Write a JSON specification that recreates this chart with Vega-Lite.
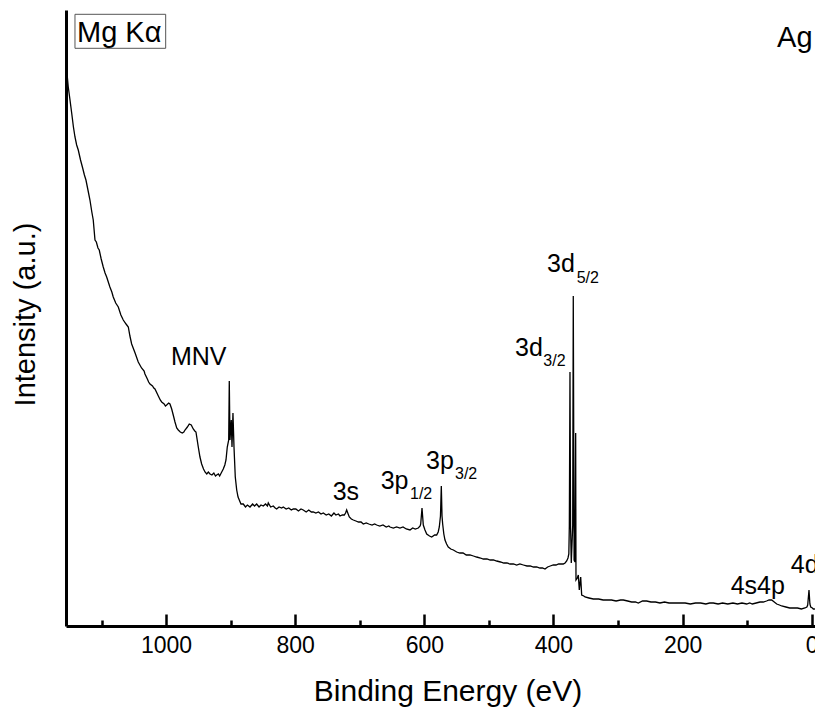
{
  "$schema": "https://vega.github.io/schema/vega-lite/v6.json",
  "autosize": {"type": "none"},
  "width": 749,
  "height": 616,
  "padding": {"left": 66, "top": 10, "right": 0, "bottom": 82},
  "background": "white",
  "config": {
    "view": {"stroke": null},
    "font": "Liberation Sans",
    "axis": {"grid": false}
  },
  "datasets": {
    "spectrum": [
      {"e":1155,"i":560},{"e":1153.5,"i":553},{"e":1151.5,"i":539},{"e":1149,"i":527},{"e":1146.2,"i":513},{"e":1143.5,"i":499},{"e":1141.1,"i":489},{"e":1138.5,"i":481},{"e":1136,"i":476},{"e":1132.5,"i":466},{"e":1129.2,"i":458},{"e":1126.5,"i":451},{"e":1124.1,"i":446},{"e":1121,"i":436},{"e":1117.9,"i":426},{"e":1115,"i":414},{"e":1112.8,"i":406},{"e":1110.1,"i":386},{"e":1108,"i":384},{"e":1105.5,"i":378},{"e":1103.5,"i":376},{"e":1100.5,"i":367},{"e":1097.3,"i":359},{"e":1094.5,"i":353},{"e":1092,"i":349},{"e":1087,"i":339},{"e":1084,"i":334},{"e":1081.8,"i":329},{"e":1078,"i":323},{"e":1074,"i":319},{"e":1070,"i":311},{"e":1066.3,"i":306},{"e":1062,"i":302},{"e":1058.5,"i":299},{"e":1056,"i":290},{"e":1053.3,"i":282},{"e":1048,"i":273},{"e":1043.1,"i":264},{"e":1038,"i":258},{"e":1034,"i":255},{"e":1032.7,"i":252},{"e":1029,"i":247},{"e":1027,"i":244},{"e":1024.9,"i":242},{"e":1021,"i":240},{"e":1019,"i":238},{"e":1017.2,"i":237},{"e":1012,"i":230},{"e":1009,"i":226},{"e":1006.8,"i":224},{"e":1003,"i":222},{"e":1001,"i":220},{"e":999.1,"i":221},{"e":996,"i":223},{"e":994,"i":222},{"e":991.3,"i":217},{"e":988.5,"i":210},{"e":986.2,"i":204},{"e":983.5,"i":198},{"e":981.1,"i":196},{"e":978,"i":194},{"e":974.9,"i":193},{"e":972.5,"i":194},{"e":970.7,"i":196},{"e":967,"i":199},{"e":964.1,"i":202},{"e":961,"i":201},{"e":957.9,"i":197},{"e":955.5,"i":195},{"e":953.7,"i":194},{"e":950.1,"i":179},{"e":947.5,"i":169},{"e":944.9,"i":162},{"e":942,"i":157},{"e":939.7,"i":154},{"e":937,"i":152},{"e":934.5,"i":154},{"e":932,"i":152},{"e":929,"i":151},{"e":926,"i":153},{"e":923.5,"i":150},{"e":921.6,"i":151},{"e":919,"i":152},{"e":917,"i":150},{"e":915.4,"i":152},{"e":913,"i":155},{"e":911.4,"i":157},{"e":909,"i":161},{"e":907.2,"i":166},{"e":905.2,"i":179},{"e":903,"i":186},{"e":902.1,"i":245},{"e":901,"i":186},{"e":899,"i":206},{"e":897.9,"i":179},{"e":896.4,"i":213},{"e":894.8,"i":179},{"e":892.8,"i":149},{"e":890.6,"i":136},{"e":888.5,"i":129},{"e":886.6,"i":126},{"e":884,"i":122},{"e":880.4,"i":122},{"e":877,"i":119},{"e":874,"i":121},{"e":870,"i":119},{"e":866,"i":122},{"e":863,"i":120},{"e":859.7,"i":122},{"e":856,"i":119},{"e":853,"i":121},{"e":849.4,"i":120},{"e":846,"i":122},{"e":843,"i":120},{"e":841.7,"i":123},{"e":838,"i":119},{"e":834,"i":120},{"e":831,"i":118},{"e":828.7,"i":117},{"e":825,"i":119},{"e":821,"i":118},{"e":818.5,"i":119},{"e":814,"i":117},{"e":810,"i":118},{"e":806,"i":116},{"e":803,"i":117},{"e":799,"i":117},{"e":795,"i":115},{"e":791,"i":117},{"e":787.5,"i":116},{"e":783,"i":114},{"e":779,"i":116},{"e":775,"i":114},{"e":772,"i":114},{"e":768,"i":113},{"e":764,"i":114},{"e":760,"i":112},{"e":756.5,"i":113},{"e":752,"i":111},{"e":748,"i":112},{"e":744,"i":110},{"e":740,"i":113},{"e":737,"i":111},{"e":733,"i":112},{"e":730.6,"i":110},{"e":727,"i":111},{"e":724,"i":111},{"e":722,"i":113},{"e":720.3,"i":116},{"e":718,"i":112},{"e":716.2,"i":109},{"e":713,"i":107},{"e":710,"i":106},{"e":706,"i":105},{"e":702,"i":104},{"e":698,"i":104},{"e":694.5,"i":102},{"e":690,"i":103},{"e":686,"i":102},{"e":681,"i":101},{"e":677,"i":102},{"e":673.8,"i":101},{"e":669,"i":100},{"e":664,"i":101},{"e":659,"i":99},{"e":655,"i":100},{"e":653.2,"i":99},{"e":648,"i":98},{"e":643,"i":99},{"e":637.7,"i":98},{"e":633,"i":99},{"e":628,"i":97},{"e":622.2,"i":96},{"e":618,"i":98},{"e":614,"i":97},{"e":609.4,"i":98},{"e":606.5,"i":100},{"e":605.6,"i":102},{"e":603.6,"i":118},{"e":601.6,"i":101},{"e":599,"i":96},{"e":596.3,"i":92},{"e":592,"i":90},{"e":588.6,"i":89},{"e":584,"i":91},{"e":580.9,"i":91},{"e":578.5,"i":94},{"e":576.8,"i":99},{"e":575,"i":110},{"e":573.7,"i":140},{"e":572.6,"i":110},{"e":571.6,"i":102},{"e":569.8,"i":92},{"e":568,"i":86},{"e":565.5,"i":82},{"e":562.9,"i":79},{"e":559,"i":77},{"e":555,"i":76},{"e":549.9,"i":74},{"e":545,"i":73},{"e":540,"i":73},{"e":535,"i":71},{"e":529.3,"i":71},{"e":524,"i":70},{"e":519,"i":69},{"e":513,"i":68},{"e":508.7,"i":67},{"e":503,"i":67},{"e":498,"i":66},{"e":493,"i":66},{"e":487.9,"i":65},{"e":482,"i":64},{"e":477,"i":63},{"e":472,"i":63},{"e":467.3,"i":62},{"e":462,"i":62},{"e":457,"i":61},{"e":452,"i":62},{"e":446.7,"i":61},{"e":441,"i":60},{"e":436,"i":60},{"e":431,"i":59},{"e":426,"i":59},{"e":421,"i":58},{"e":417,"i":58},{"e":413.1,"i":57},{"e":409,"i":59},{"e":405,"i":60},{"e":400.2,"i":61},{"e":396,"i":61},{"e":392,"i":62},{"e":388,"i":62},{"e":384.8,"i":62},{"e":382,"i":63},{"e":379.5,"i":65},{"e":377.5,"i":68},{"e":376.2,"i":72},{"e":375.4,"i":100},{"e":374.4,"i":254},{"e":373.5,"i":100},{"e":372.4,"i":63},{"e":370.2,"i":100},{"e":369.3,"i":330},{"e":368,"i":66},{"e":366.6,"i":64},{"e":365.6,"i":193},{"e":365.1,"i":46},{"e":363,"i":48},{"e":361.5,"i":51},{"e":360,"i":36},{"e":357.8,"i":49},{"e":356.3,"i":31},{"e":353,"i":30},{"e":351.1,"i":29},{"e":345,"i":28},{"e":338.3,"i":27},{"e":330,"i":27},{"e":323,"i":26},{"e":317.5,"i":26},{"e":310,"i":26},{"e":303,"i":25},{"e":296,"i":26},{"e":291.8,"i":26},{"e":285,"i":25},{"e":279,"i":24},{"e":273,"i":24},{"e":268.6,"i":23},{"e":262,"i":25},{"e":255.6,"i":25},{"e":249,"i":24},{"e":242,"i":24},{"e":235,"i":23},{"e":228,"i":24},{"e":221,"i":23},{"e":214,"i":23},{"e":204,"i":23},{"e":196,"i":23},{"e":188,"i":22},{"e":180,"i":23},{"e":172,"i":23},{"e":164,"i":22},{"e":158,"i":23},{"e":152.4,"i":23},{"e":145,"i":22},{"e":138,"i":23},{"e":130,"i":22},{"e":122,"i":23},{"e":115,"i":22},{"e":108,"i":23},{"e":100.7,"i":22},{"e":96,"i":23},{"e":92,"i":22},{"e":86,"i":23},{"e":80.1,"i":24},{"e":75,"i":24},{"e":70,"i":25},{"e":66,"i":26},{"e":62,"i":26},{"e":58,"i":24},{"e":54.2,"i":22},{"e":50,"i":21},{"e":46.5,"i":20},{"e":40,"i":19},{"e":34,"i":18},{"e":28.5,"i":18},{"e":22,"i":18},{"e":16,"i":17},{"e":10.4,"i":18},{"e":7.5,"i":19},{"e":6.2,"i":21},{"e":4.2,"i":36},{"e":2.8,"i":22},{"e":1.5,"i":19},{"e":-1,"i":18},{"e":-2.5,"i":17},{"e":-5,"i":17}
    ],
    "peakLabels": [
      {"t":"MNV","e":992.4,"i":260.7},
      {"t":"3s","e":741.9,"i":126.4},
      {"t":"3p","e":667.6,"i":137.4},
      {"t":"3p","e":597.4,"i":156.7},
      {"t":"3d","e":459.6,"i":270},
      {"t":"3d","e":410.0,"i":353.7},
      {"t":"4s4p","e":125.5,"i":32.4},
      {"t":"4d","e":32.5,"i":53.4}
    ],
    "subLabels": [
      {"t":"1/2","e":622.2,"i":127.4},
      {"t":"3/2","e":552.5,"i":146.7},
      {"t":"3/2","e":415.7,"i":259.7},
      {"t":"5/2","e":364.0,"i":343.4}
    ],
    "bigLabels": [
      {"t":"Mg Kα","e":1138,"i":584},
      {"t":"Ag","e":53.7,"i":579}
    ],
    "box": [
      {"e":1141.1,"e2":1000.6,"i":611.7,"i2":577.7}
    ]
  },
  "encoding": {
    "x": {
      "field": "e",
      "type": "quantitative",
      "scale": {"domain": [-5.1, 1155], "reverse": true, "nice": false, "zero": false},
      "axis": {
        "values": [1100, 1000, 900, 800, 700, 600, 500, 400, 300, 200, 100, 0],
        "format": "d",
        "labelExpr": "datum.value % 200 === 0 ? datum.label : ''",
        "tickSize": {"condition": {"test": "datum.value % 200 === 0", "value": -12}, "value": -6},
        "tickWidth": 2.5,
        "tickColor": "black",
        "domainWidth": 3,
        "domainColor": "black",
        "labelFontSize": 23,
        "labelColor": "black",
        "labelPadding": 20,
        "labelFlush": false,
        "labelOverlap": false,
        "title": "Binding Energy (eV)",
        "titleFontSize": 30,
        "titleFontWeight": "normal",
        "titleColor": "black",
        "titleX": 381.5,
        "titleY": 74,
        "titleBaseline": "alphabetic",
        "titleAlign": "center",
        "grid": false
      }
    },
    "y": {
      "field": "i",
      "type": "quantitative",
      "scale": {"domain": [0, 616], "nice": false, "zero": false},
      "axis": {
        "ticks": false,
        "labels": false,
        "domainWidth": 3,
        "domainColor": "black",
        "title": "Intensity (a.u.)",
        "titleFontSize": 29,
        "titleFontWeight": "normal",
        "titleColor": "black",
        "titleX": -41,
        "titleY": 304,
        "titleBaseline": "middle",
        "titleAlign": "center",
        "titleAngle": 270,
        "grid": false
      }
    }
  },
  "layer": [
    {
      "data": {"name": "spectrum"},
      "mark": {"type": "line", "color": "black", "strokeWidth": 1.3, "interpolate": "linear"}
    },
    {
      "data": {"name": "box"},
      "mark": {"type": "rect", "fill": null, "fillOpacity": 0, "stroke": "#555555", "strokeWidth": 1},
      "encoding": {
        "x2": {"field": "e2"},
        "y2": {"field": "i2"}
      }
    },
    {
      "data": {"name": "peakLabels"},
      "mark": {"type": "text", "fontSize": 25, "align": "left", "baseline": "alphabetic", "color": "black"},
      "encoding": {"text": {"field": "t"}}
    },
    {
      "data": {"name": "subLabels"},
      "mark": {"type": "text", "fontSize": 16, "align": "left", "baseline": "alphabetic", "color": "black"},
      "encoding": {"text": {"field": "t"}}
    },
    {
      "data": {"name": "bigLabels"},
      "mark": {"type": "text", "fontSize": 29, "align": "left", "baseline": "alphabetic", "color": "black"},
      "encoding": {"text": {"field": "t"}}
    },
    {
      "data": {"values": [{}]},
      "mark": {"type": "rule", "color": "black", "strokeWidth": 3},
      "encoding": {
        "x": {"datum": 1155},
        "x2": {"datum": -5.1},
        "y": {"datum": 616}
      }
    }
  ]
}
